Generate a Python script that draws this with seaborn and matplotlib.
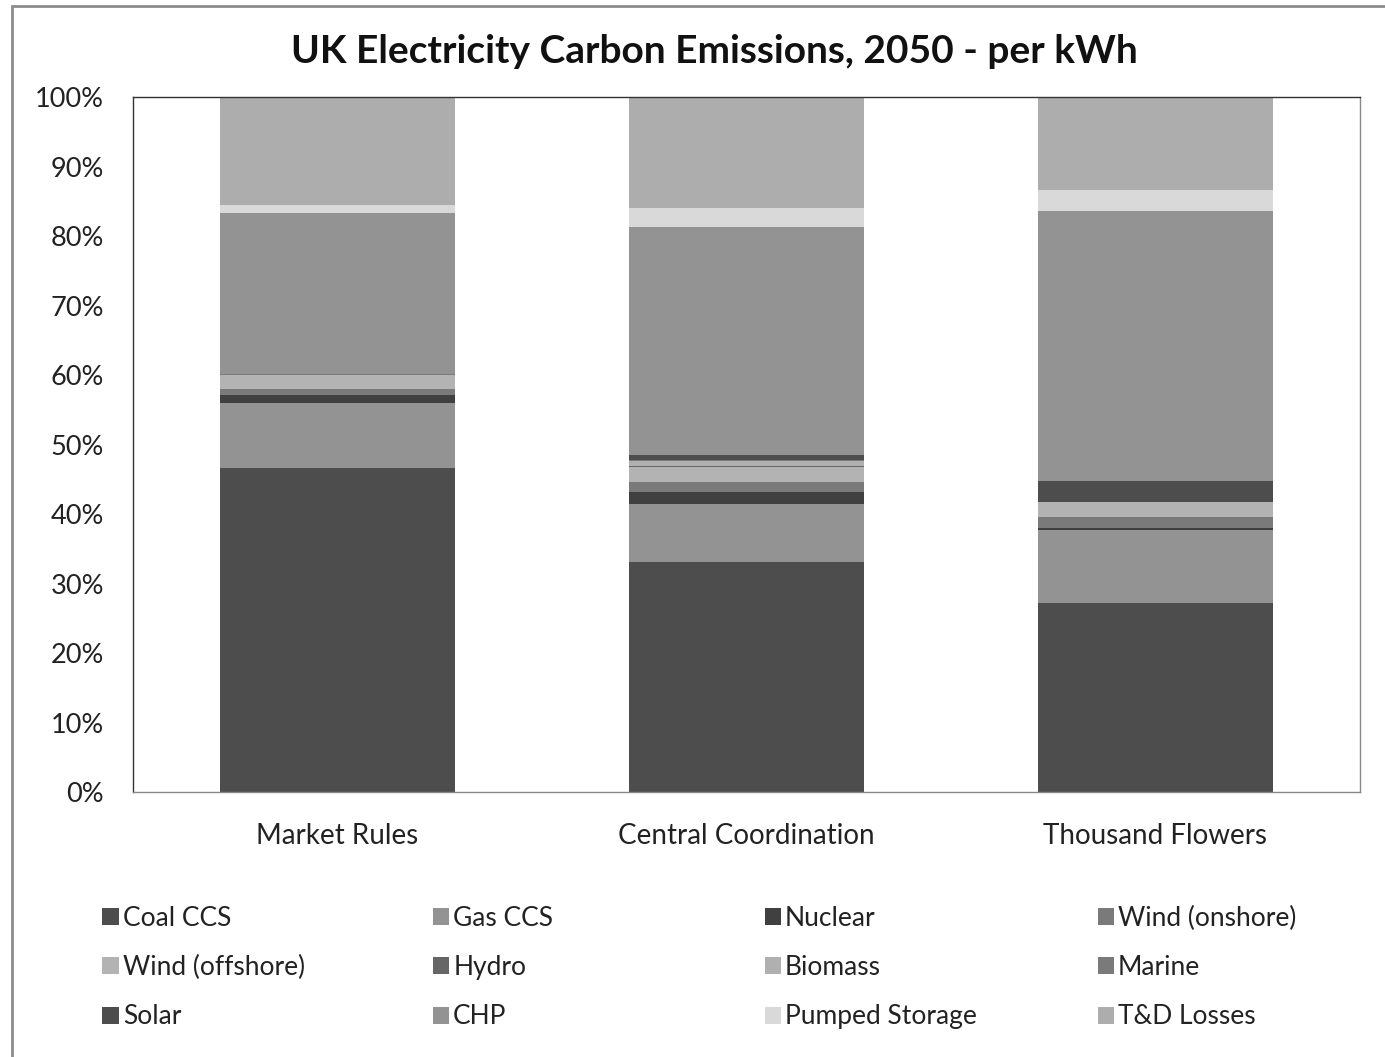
import numpy as np
import pandas as pd
import matplotlib
matplotlib.use("Agg")
import matplotlib.pyplot as plt
from matplotlib.patches import Patch, Rectangle
import seaborn as sns

# Scenarios and their share of electricity carbon emissions (%), by source
scenarios = ["Market Rules", "Central Coordination", "Thousand Flowers"]
sources = ["Coal CCS", "Gas CCS", "Nuclear", "Wind (onshore)", "Wind (offshore)",
           "Hydro", "Biomass", "Marine", "Solar", "CHP", "Pumped Storage", "T&D Losses"]

coal_ccs = [46.6, 33.1, 27.2]
gas_ccs = [9.35, 8.35, 10.5]
nuclear = [1.15, 1.7, 0.35]
wind_onshore = [0.86, 1.45, 1.55]
wind_offshore = [2.0, 2.15, 2.07]
hydro = [0.0, 0.15, 0.0]
biomass = [0.0, 0.7, 0.0]
marine = [0.15, 0.15, 0.0]
solar = [0.0, 0.7, 3.07]
chp = [23.2, 32.8, 38.85]
pumped_storage = [1.15, 2.7, 3.0]
td_losses = [15.5, 16.0, 13.4]

colors = ["#4d4d4d", "#939393", "#404040", "#7a7a7a", "#b3b3b3", "#666666",
          "#b0b0b0", "#7a7a7a", "#4d4d4d", "#939393", "#d9d9d9", "#adadad"]

series = [coal_ccs, gas_ccs, nuclear, wind_onshore, wind_offshore, hydro,
          biomass, marine, solar, chp, pumped_storage, td_losses]
df = pd.DataFrame(np.array(series).T, index=scenarios, columns=sources)
share = df.div(df.sum(axis=1), axis=0) * 100
cum = share.cumsum(axis=1)

FONT = "Lato"
plt.rcParams["font.family"] = [FONT, "DejaVu Sans"]

fig = plt.figure(figsize=(13.85, 10.57), dpi=100)
ax = fig.add_axes([0.0960, 0.2507, 0.8859, 0.6575])

# Stacked bars: draw cumulative totals from the top layer down
for src, col in reversed(list(zip(sources, colors))):
    sns.barplot(x=scenarios, y=cum[src].values, color=col, width=0.575,
                saturation=1, linewidth=0, ax=ax)

ax.set_xlim(-0.5, 2.5)
ax.set_ylim(0, 100)
ax.set_yticks(np.arange(0, 101, 10))
ax.set_yticklabels([f"{v}%" for v in range(0, 101, 10)])
ax.tick_params(axis="y", length=0, labelsize=19.5, colors="#222222", pad=21)
ax.tick_params(axis="x", length=0, labelsize=20, colors="#222222", pad=22)
ax.set_xlabel("")
ax.set_ylabel("")
for s in ax.spines.values():
    s.set_visible(True)
    s.set_linewidth(1.0)
    s.set_color("#333333")
ax.spines["bottom"].set_color("#888888")
ax.spines["right"].set_color("#888888")

fig.text(0.516, 0.951, "UK Electricity Carbon Emissions, 2050 - per kWh",
         ha="center", va="center", fontsize=28, fontweight="bold", color="#111111")

# Legend laid out row by row in four columns
col_x = [0.0740, 0.3125, 0.5522, 0.7926]
for c in range(4):
    idx = [r * 4 + c for r in range(3)]
    handles = [Patch(facecolor=colors[i], edgecolor="none", label=sources[i]) for i in idx]
    fig.legend(handles=handles, loc="upper left", bbox_to_anchor=(col_x[c], 0.143),
               frameon=False, fontsize=19, handlelength=0.62, handleheight=0.62,
               handletextpad=0.15, labelspacing=0.92, borderpad=0, borderaxespad=0,
               labelcolor="#222222")

# Outer chart border
fig.add_artist(Rectangle((0.0085, -0.01), 1.2, 1.004, transform=fig.transFigure,
                         fill=False, edgecolor="#8c8c8c", linewidth=2))

fig.savefig("out.png", dpi=100)
